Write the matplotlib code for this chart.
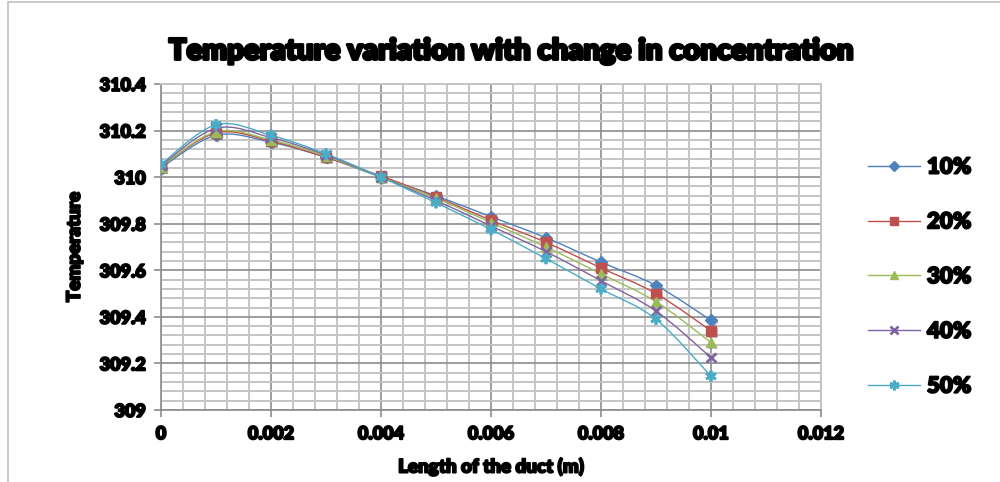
import matplotlib
matplotlib.use("Agg")
import matplotlib.pyplot as plt
from matplotlib.path import Path
from matplotlib.patches import PathPatch, Rectangle
from matplotlib.lines import Line2D
from matplotlib.ticker import MultipleLocator
import matplotlib.patheffects as pe

# Duct length positions (m)
length = [0.0, 0.001, 0.002, 0.003, 0.004, 0.005, 0.006, 0.007, 0.008, 0.009, 0.010]

# Temperature profiles for each concentration
temp_10 = [310.04, 310.18, 310.15, 310.085, 310.00, 309.92, 309.83, 309.74, 309.635, 309.535, 309.385]
temp_20 = [310.045, 310.19, 310.155, 310.085, 310.005, 309.915, 309.815, 309.72, 309.61, 309.50, 309.34]
temp_30 = [310.045, 310.195, 310.16, 310.09, 310.00, 309.91, 309.805, 309.70, 309.585, 309.465, 309.29]
temp_40 = [310.05, 310.21, 310.17, 310.095, 310.00, 309.90, 309.79, 309.68, 309.555, 309.425, 309.225]
temp_50 = [310.055, 310.225, 310.18, 310.10, 310.00, 309.89, 309.775, 309.65, 309.52, 309.39, 309.145]

labels = ["10%", "20%", "30%", "40%", "50%"]
series = [temp_10, temp_20, temp_30, temp_40, temp_50]
colors = ["#4F81BD", "#C0504D", "#9BBB59", "#8064A2", "#4BACC6"]
markers = ["D", "s", "^", "x", (6, 2, 0)]
msizes = [6, 7, 7, 7, 8]

FONT = "Lato"
W = "heavy"
# Extra-heavy lettering
heavy = [pe.withStroke(linewidth=1.3, foreground="black")]


def smooth_path(xs, ys):
    """Cubic Bezier path through the points (Catmull-Rom style smoothing)."""
    n = len(xs)
    verts = [(xs[0], ys[0])]
    codes = [Path.MOVETO]
    for i in range(n - 1):
        x0, y0 = (xs[i - 1], ys[i - 1]) if i > 0 else (xs[i], ys[i])
        x1, y1 = xs[i], ys[i]
        x2, y2 = xs[i + 1], ys[i + 1]
        x3, y3 = (xs[i + 2], ys[i + 2]) if i + 2 < n else (x2, y2)
        c1 = (x1 + (x2 - x0) / 6.0, y1 + (y2 - y0) / 6.0)
        c2 = (x2 - (x3 - x1) / 6.0, y2 - (y3 - y1) / 6.0)
        verts += [c1, c2, (x2, y2)]
        codes += [Path.CURVE4] * 3
    return Path(verts, codes)


fig = plt.figure(figsize=(10, 4.82), dpi=100)

# Chart area frame
fig.patches.append(Rectangle((0.008, -0.1), 1.1, 1.096, transform=fig.transFigure,
                             fill=False, edgecolor="#BFBFBF", linewidth=1.2))

ax = fig.add_axes([0.161, 0.1494, 0.660, 0.6763])
ax.set_xlim(0, 0.012)
ax.set_ylim(309, 310.4)

ax.xaxis.set_major_locator(MultipleLocator(0.002))
ax.xaxis.set_minor_locator(MultipleLocator(0.0004))
ax.yaxis.set_major_locator(MultipleLocator(0.2))
ax.yaxis.set_minor_locator(MultipleLocator(0.04))

ax.grid(which="minor", color="#C4C4C4", linewidth=1.4)
ax.grid(which="major", color="#8C8C8C", linewidth=1.2)
ax.set_axisbelow(True)

for side in ["top", "right"]:
    ax.spines[side].set_color("#C4C4C4")
    ax.spines[side].set_linewidth(1.4)
for side in ["left", "bottom"]:
    ax.spines[side].set_color("#8C8C8C")
    ax.spines[side].set_linewidth(1.2)

ax.tick_params(which="major", direction="out", length=5, width=1.2, color="#8C8C8C",
               labelsize=13, pad=6)
ax.tick_params(which="minor", length=0)

xt = [0, 0.002, 0.004, 0.006, 0.008, 0.01, 0.012]
ax.set_xticks(xt)
ax.set_xticklabels(["0", "0.002", "0.004", "0.006", "0.008", "0.01", "0.012"])
yt = [309, 309.2, 309.4, 309.6, 309.8, 310, 310.2, 310.4]
ax.set_yticks(yt)
ax.set_yticklabels(["309", "309.2", "309.4", "309.6", "309.8", "310", "310.2", "310.4"])
for lab in ax.get_xticklabels() + ax.get_yticklabels():
    lab.set_fontfamily(FONT)
    lab.set_fontweight(W)
    lab.set_path_effects(heavy)

shadow = [pe.SimplePatchShadow(offset=(1.5, -1.5), shadow_rgbFace="#606060", alpha=0.35),
          pe.Normal()]

for ys, c, m, ms, lab in zip(series, colors, markers, msizes, labels):
    ax.add_patch(PathPatch(smooth_path(length, ys), facecolor="none", edgecolor=c,
                           linewidth=1.0, zorder=3))
    mk = dict(marker=m, markersize=ms, color=c, markerfacecolor=c, markeredgecolor=c)
    if m == "x" or isinstance(m, tuple):
        mk["markeredgewidth"] = 2.0
    ax.plot(length, ys, linestyle="none", zorder=4, path_effects=shadow, **mk)

ax.set_xlabel("Length of the duct (m)", fontfamily=FONT, fontweight=W, fontsize=13.5,
              labelpad=11, path_effects=heavy)
ax.set_ylabel("Temperature", fontfamily=FONT, fontweight=W, fontsize=13.5, labelpad=12,
              path_effects=heavy)

fig.text(0.51, 0.893, "Temperature variation with change in concentration",
         ha="center", va="center", fontfamily=FONT, fontweight=W, fontsize=21,
         path_effects=[pe.withStroke(linewidth=2.0, foreground="black")])

# Legend
handles = []
for c, m, ms in zip(colors, markers, msizes):
    kw = dict(color=c, linewidth=1.0, marker=m, markersize=ms - 1,
              markerfacecolor=c, markeredgecolor=c)
    if m == "x" or isinstance(m, tuple):
        kw["markeredgewidth"] = 2.0
    handles.append(Line2D([], [], **kw))
leg = fig.legend(handles, labels, loc="center left", bbox_to_anchor=(0.857, 0.426),
                 frameon=False, handlelength=2.35, handletextpad=0.3,
                 labelspacing=1.52, borderpad=0,
                 prop=dict(family=FONT, weight=W, size=16))
for t in leg.get_texts():
    t.set_path_effects(heavy)

fig.savefig("out.png", dpi=100)
